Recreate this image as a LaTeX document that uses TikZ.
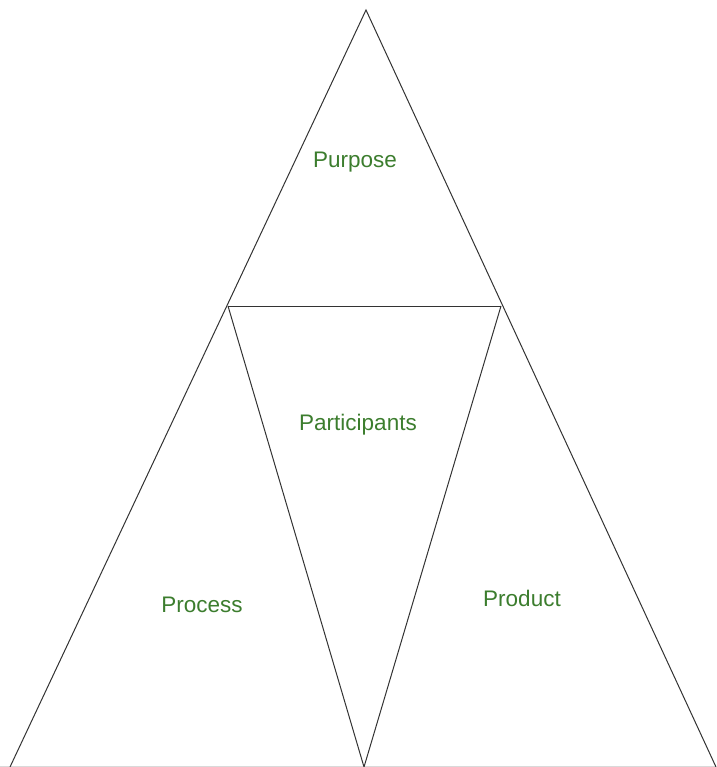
\documentclass[tikz,border=0pt]{standalone}
\usepackage{fontspec}
\setmainfont{Liberation Sans}
\usepackage{xcolor}
\usepackage{tikz}
\usetikzlibrary{positioning}
\definecolor{lblgreen}{HTML}{3C7D2E}
\tikzset{
  sideline/.style={draw=black!80,line width=1pt,line join=miter},
  baseline/.style={draw=black!15,line width=0.8pt},
  partlabel/.style={text=lblgreen,font=\fontsize{22.5}{26}\selectfont,inner sep=0pt},
}

\begin{document}
\begin{tikzpicture}[x=1pt,y=-1pt]
    \useasboundingbox (0,0) rectangle (716,767);
    % corners of the big triangle and the inner one
    \coordinate (apex) at (366,10);
    \coordinate (botL) at (10,767);
    \coordinate (botR) at (716,767);
    \coordinate (botM) at (364,767);
    \coordinate (midL) at (228,306);
    \coordinate (midR) at (501,306);
    \coordinate (baseL) at (0,766);
    \coordinate (baseR) at (716,766);
    \draw[baseline] (baseL) -- (baseR);
    \draw[sideline] (botL) -- (apex) -- (botR);
    \draw[sideline] (midL) -- (midR);
    \draw[sideline] (midL) -- (botM) -- (midR);
    \node[partlabel] (purpose) at (355,162) {Purpose};
    \node[partlabel] (participants) at (358,425) {Participants};
    \node[partlabel] (process) at (202,605) {Process};
    \node[partlabel] (product) at (522,598) {Product};
  \end{tikzpicture}
\end{document}
